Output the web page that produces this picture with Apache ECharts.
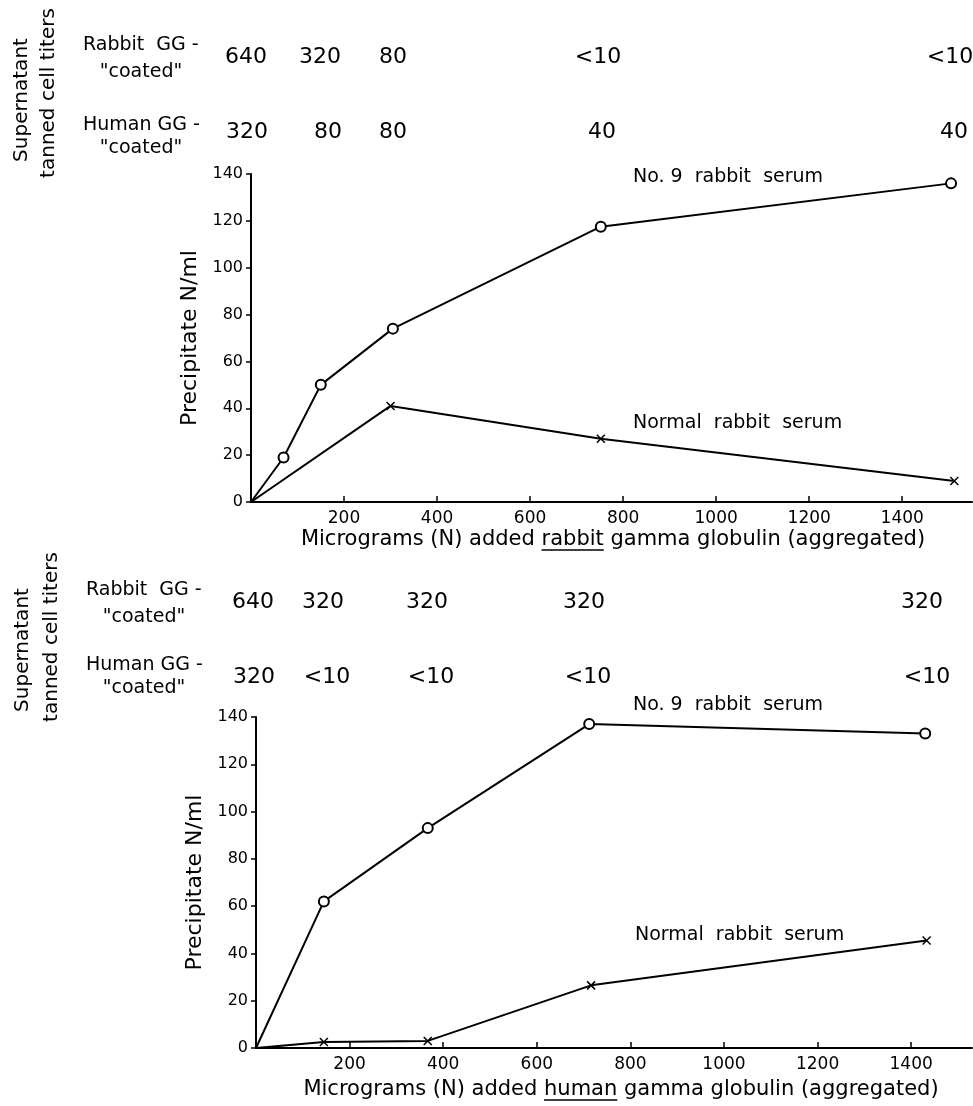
<!DOCTYPE html>
<html>
<head>
<meta charset="utf-8">
<script src="https://cdn.jsdelivr.net/npm/echarts@6/dist/echarts.min.js"></script>
<style>
  html, body { margin: 0; padding: 0; background: #fff; }
  #main { width: 973px; height: 1106px; }
</style>
</head>
<body>
<div id="main"></div>
<script>
// upper panel: rabbit gamma globulin added
var rabbitNo9 = [[0, 0], [70, 19], [150, 50], [305, 74], [752, 117.5], [1505, 136]];
var rabbitNormal = [[0, 0], [300, 41], [752, 27], [1512, 9]];
// lower panel: human gamma globulin added
var humanNo9 = [[0, 0], [145, 62], [367, 93], [712, 137], [1430, 133]];
var humanNormal = [[0, 0], [145, 2.5], [367, 3], [716, 26.5], [1433, 45.5]];

// supernatant tanned cell titers
var topRabbitTiters = ['640', '320', '80', '<10', '<10'];
var topHumanTiters = ['320', '80', '80', '40', '40'];
var botRabbitTiters = ['640', '320', '320', '320', '320'];
var botHumanTiters = ['320', '<10', '<10', '<10', '<10'];

var font = '"DejaVu Sans", sans-serif';
var myChart = echarts.init(document.getElementById('main'));

function xAx(idx, max) {
  return {
    type: 'value', gridIndex: idx, min: 0, max: max, interval: 200,
    axisLine: { show: true, onZero: false, lineStyle: { color: '#000', width: 2 } },
    axisTick: { show: true, inside: true, length: 6, lineStyle: { color: '#000', width: 1.5 } },
    axisLabel: { color: '#000', fontSize: 17, fontFamily: font, margin: 8,
      showMinLabel: false, showMaxLabel: false, formatter: function (v) { return String(v); } },
    splitLine: { show: false }
  };
}
function yAx(idx, gap) {
  return {
    type: 'value', gridIndex: idx, min: 0, max: 140, interval: 20,
    name: 'Precipitate N/ml', nameLocation: 'middle', nameGap: gap,
    nameTextStyle: { fontSize: 22, color: '#000', fontFamily: font },
    axisLine: { show: true, lineStyle: { color: '#000', width: 2 } },
    axisTick: { show: true, length: 5, lineStyle: { color: '#000', width: 1.5 } },
    axisLabel: { color: '#000', fontSize: 16, fontFamily: font, margin: 8 },
    splitLine: { show: false }
  };
}
function ser(idx, data, mark) {
  var sym = mark === 'o' ? 'emptyCircle' : 'path://M0,0L10,10M10,0L0,10';
  return {
    type: 'line', xAxisIndex: idx, yAxisIndex: idx, data: data,
    symbol: function (v, p) { return p.dataIndex === 0 ? 'none' : sym; },
    symbolSize: mark === 'o' ? 10 : 8,
    showAllSymbol: true,
    lineStyle: { color: '#000', width: 2 },
    itemStyle: { color: '#000', borderColor: '#000', borderWidth: 1.5 },
    silent: true, animation: false
  };
}

function txt(x, y, s, size, align) {
  return { type: 'text', x: x, y: y,
    style: { text: s, fontSize: size, fontFamily: font, fill: '#000', align: align || 'center', verticalAlign: 'middle' } };
}
function vtxt(x, y, s) {
  return { type: 'text', x: x, y: y, rotation: Math.PI / 2,
    style: { text: s, fontSize: 20, fontFamily: font, fill: '#000', align: 'center', verticalAlign: 'middle' } };
}
function row(list, xs, y) {
  return list.map(function (s, i) { return txt(xs[i], y, s, 22); });
}
// x axis title with an underlined word
var measure = document.createElement('canvas').getContext('2d');
function xname(cx, cy, pre, word, post) {
  measure.font = '21px ' + font;
  var all = measure.measureText(pre + word + post).width;
  var a = measure.measureText(pre).width;
  var b = measure.measureText(pre + word).width;
  var left = cx - all / 2;
  return [
    txt(left, cy, pre + word + post, 21, 'left'),
    { type: 'line', shape: { x1: left + a, y1: cy + 10, x2: left + b, y2: cy + 10 },
      style: { stroke: '#000', lineWidth: 1.5 } }
  ];
}

var graphics = [
  vtxt(22, 100, 'Supernatant'), vtxt(49, 93, 'tanned cell titers'),
  txt(83, 45, 'Rabbit  GG -', 19, 'left'), txt(141, 72, '"coated"', 19),
  txt(83, 125, 'Human GG -', 19, 'left'), txt(141, 148, '"coated"', 19),
  txt(633, 177, 'No. 9  rabbit  serum', 19, 'left'),
  txt(633, 423, 'Normal  rabbit  serum', 19, 'left'),
  vtxt(23, 650, 'Supernatant'), vtxt(52, 637, 'tanned cell titers'),
  txt(86, 590, 'Rabbit  GG -', 19, 'left'), txt(144, 617, '"coated"', 19),
  txt(86, 665, 'Human GG -', 19, 'left'), txt(144, 688, '"coated"', 19),
  txt(633, 705, 'No. 9  rabbit  serum', 19, 'left'),
  txt(635, 935, 'Normal  rabbit  serum', 19, 'left')
]
  .concat(row(topRabbitTiters, [246, 320, 393, 598, 950], 57))
  .concat(row(topHumanTiters, [247, 328, 393, 602, 954], 132))
  .concat(row(botRabbitTiters, [253, 323, 427, 584, 922], 602))
  .concat(row(botHumanTiters, [254, 327, 431, 588, 927], 677))
  .concat(xname(613, 540, 'Micrograms (N) added ', 'rabbit', ' gamma globulin (aggregated)'))
  .concat(xname(621, 1090, 'Micrograms (N) added ', 'human', ' gamma globulin (aggregated)'));

option = {
  backgroundColor: '#fff',
  animation: false,
  grid: [
    { left: 251, top: 174, width: 721, height: 328 },
    { left: 256, top: 717, width: 716, height: 331 }
  ],
  xAxis: [xAx(0, 1550), xAx(1, 1530)],
  yAxis: [yAx(0, 46), yAx(1, 49)],
  series: [
    ser(0, rabbitNo9, 'o'), ser(0, rabbitNormal, 'x'),
    ser(1, humanNo9, 'o'), ser(1, humanNormal, 'x')
  ],
  graphic: graphics
};
myChart.setOption(option);
</script>
</body>
</html>
